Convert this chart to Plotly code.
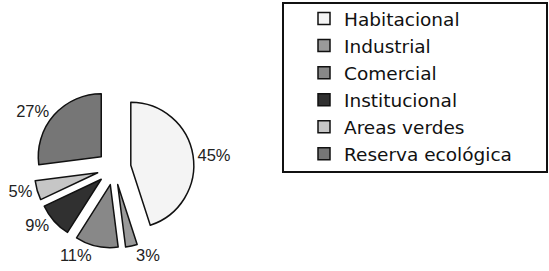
import plotly.graph_objects as go

labels = ["Habitacional", "Industrial", "Comercial", "Institucional", "Areas verdes", "Reserva ecológica"]
values = [45, 3, 11, 9, 5, 27]
colors = ["#f4f4f4", "#9a9a9a", "#888888", "#303030", "#c6c6c6", "#767676"]

W, H = 549, 271

def px(x):
    return x / W

def py(y):
    return 1 - y / H

fig = go.Figure(go.Pie(
    labels=labels,
    values=values,
    sort=False,
    direction="clockwise",
    rotation=0,
    pull=0.27,
    marker=dict(colors=colors, line=dict(color="#111111", width=1.5)),
    textinfo="percent",
    textposition="outside",
    outsidetextfont=dict(family="Arial, Liberation Sans", size=16.5, color="#222222"),
    domain=dict(x=[px(34), px(194)], y=[py(248), py(88)]),
    showlegend=True,
))

fig.update_layout(
    width=W, height=H,
    margin=dict(l=0, r=0, t=0, b=0, autoexpand=False),
    paper_bgcolor="white",
    plot_bgcolor="white",
    legend=dict(
        x=px(304), y=py(0), xanchor="left", yanchor="top",
        font=dict(family="DejaVu Sans", size=18.5, color="#111111"),
        bgcolor="rgba(0,0,0,0)", borderwidth=0,
        traceorder="normal",
    ),
    shapes=[dict(type="rect", xref="paper", yref="paper",
                 x0=px(283), x1=px(547), y0=py(172), y1=py(3),
                 line=dict(color="#111111", width=2))],
)

fig.write_html("out.html", config={"displayModeBar": False},
               post_script="document.body.style.margin='0';")
